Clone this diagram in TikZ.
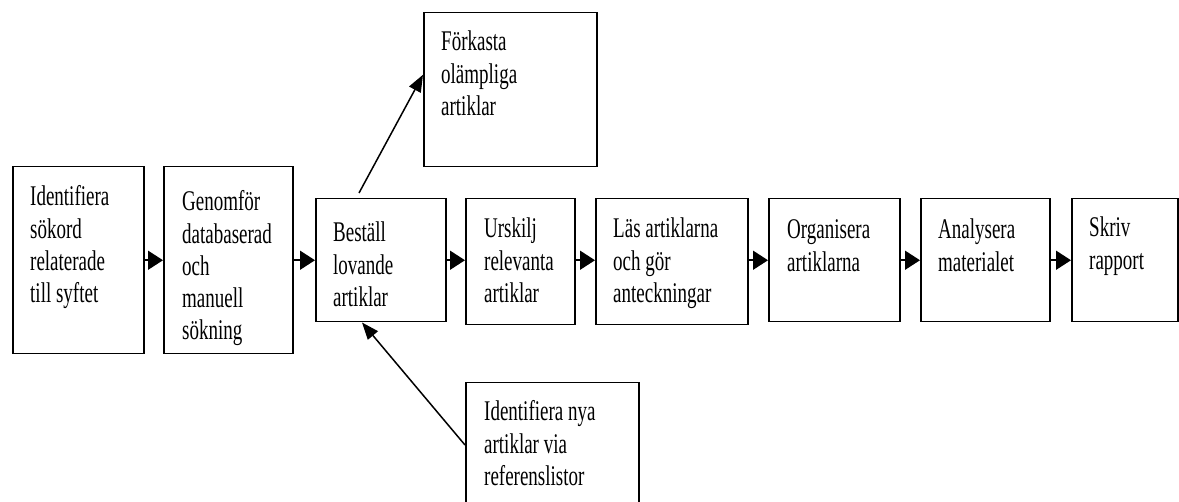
\documentclass[tikz,border=0pt]{standalone}
\usepackage{fontspec}
\setmainfont{Liberation Serif}
\usepackage{graphicx}
\usetikzlibrary{arrows.meta}
\newcommand\boxtext[1]{\scalebox{1}[1.5]{\begin{tabular}[t]{@{}l@{}}#1\end{tabular}}}
\begin{document}
\begin{tikzpicture}[x=1pt,y=-1pt,
  box/.style={draw, line width=1.5pt, inner sep=0pt, anchor=north west},
  txt/.style={inner sep=0pt, anchor=north west, font=\fontsize{19}{21.5}\selectfont},
  flow/.style={line width=1.5pt, -{Triangle[length=15pt,width=19pt]}},
  diag/.style={line width=1.5pt, -{Triangle[length=17pt,width=13pt]}}]
\useasboundingbox (0,0) rectangle (1179,502);
\clip (0,0) rectangle (1179,502);
% boxes
\node[box, minimum width=131pt, minimum height=187pt] (b1) at (12,166) {};
\node[box, minimum width=129pt, minimum height=187pt] (b2) at (163,166) {};
\node[box, minimum width=130pt, minimum height=123pt] (b3) at (315,198) {};
\node[box, minimum width=109pt, minimum height=126pt] (b4) at (465,198) {};
\node[box, minimum width=152pt, minimum height=126pt] (b5) at (595,198) {};
\node[box, minimum width=131pt, minimum height=123pt] (b6) at (768,198) {};
\node[box, minimum width=129pt, minimum height=123pt] (b7) at (920,198) {};
\node[box, minimum width=106pt, minimum height=123pt] (b8) at (1071,198) {};
\node[box, minimum width=173pt, minimum height=154pt] (top) at (423,12) {};
\node[box, minimum width=173pt, minimum height=150pt] (bot) at (465,382) {};
% texts
\node[txt] (t1) at ([shift={(18,17)}]b1.north west) {\boxtext{Identifiera\\sökord\\relaterade\\till syftet}};
\node[txt] (t2) at ([shift={(19,22)}]b2.north west) {\boxtext{Genomför\\databaserad\\och\\manuell\\sökning}};
\node[txt] (t3) at ([shift={(18,21)}]b3.north west) {\boxtext{Beställ\\lovande\\artiklar}};
\node[txt] (t4) at ([shift={(19,17)}]b4.north west) {\boxtext{Urskilj\\relevanta\\artiklar}};
\node[txt] (t5) at ([shift={(18,17)}]b5.north west) {\boxtext{Läs artiklarna\\och gör\\anteckningar}};
\node[txt] (t6) at ([shift={(19,18)}]b6.north west) {\boxtext{Organisera\\artiklarna}};
\node[txt] (t7) at ([shift={(18,18)}]b7.north west) {\boxtext{Analysera\\materialet}};
\node[txt] (t8) at ([shift={(18,16)}]b8.north west) {\boxtext{Skriv\\rapport}};
\node[txt] (t9) at ([shift={(18,16)}]top.north west) {\boxtext{Förkasta\\olämpliga\\artiklar}};
\node[txt] (t10) at ([shift={(19,16)}]bot.north west) {\boxtext{Identifiera nya\\artiklar via\\referenslistor}};
% connectors
\draw[flow] (b1.east) -- (b1.east -| b2.west);
\draw[flow] (b2.east) -- (b2.east -| b3.west);
\draw[flow] (b3.east) -- (b3.east -| b4.west);
\draw[flow] (b3.east -| b4.east) -- (b3.east -| b5.west);
\draw[flow] (b3.east -| b5.east) -- (b3.east -| b6.west);
\draw[flow] (b6.east) -- (b6.east -| b7.west);
\draw[flow] (b7.east) -- (b7.east -| b8.west);
\draw[diag] ([shift={(44,-5)}]b3.north west) -- ([shift={(0,-15)}]top.west);
\draw[diag] ([shift={(0,63)}]bot.north west) -- ([shift={(47,0)}]b3.south west);
\end{tikzpicture}
\end{document}
